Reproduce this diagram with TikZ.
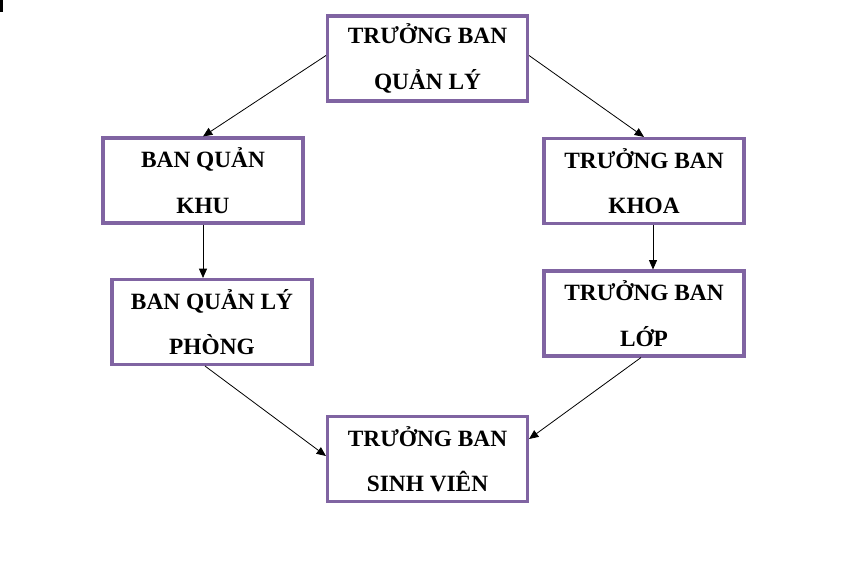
\documentclass[tikz,border=0pt]{standalone}
\usepackage{fontspec}
\setmainfont{Liberation Serif}
\usetikzlibrary{arrows.meta,calc}
\definecolor{boxpurple}{HTML}{8064A2}
\begin{document}
\begin{tikzpicture}[x=0.75pt,y=-0.75pt,
  orgbox/.style={draw=boxpurple,line width=2.3pt,fill=white,minimum width=200*0.75pt,minimum height=85*0.75pt,
    inner sep=0pt,align=center,font=\bfseries\fontsize{17.5}{34}\selectfont},
  link/.style={draw=black,line width=0.6pt,-{Triangle[length=7pt,width=6pt]}}]
\useasboundingbox (0,0) rectangle (863,564);
\fill[black] (0,0) rectangle (3,12);
\node[orgbox] (top) at (427.5,58.5) {TRƯỞNG BAN\\QUẢN LÝ};
\node[orgbox] (lk) at (203,180.5) {BAN QUẢN\\KHU};
\node[orgbox] (tk) at (644,181) {TRƯỞNG BAN\\KHOA};
\node[orgbox] (lp) at (212,322) {BAN QUẢN LÝ\\PHÒNG};
\node[orgbox] (tl) at (644,313.5) {TRƯỞNG BAN\\LỚP};
\node[orgbox] (sv) at (427.5,459) {TRƯỞNG BAN\\SINH VIÊN};
\draw[link] ([yshift=3*0.75pt]top.west) -- (lk.north);
\draw[link] ([yshift=3*0.75pt]top.east) -- (tk.north);
\draw[link] (lk.south) -- (lk.south |- lp.north);
\draw[link] ([xshift=9*0.75pt]tk.south) -- ([xshift=9*0.75pt]tk.south |- tl.north);
\draw[link] ([xshift=-7*0.75pt]lp.south) -- ([yshift=3*0.75pt]sv.west);
\draw[link] ([xshift=-3*0.75pt]tl.south) -- ([yshift=20*0.75pt]sv.east);
\end{tikzpicture}
\end{document}
